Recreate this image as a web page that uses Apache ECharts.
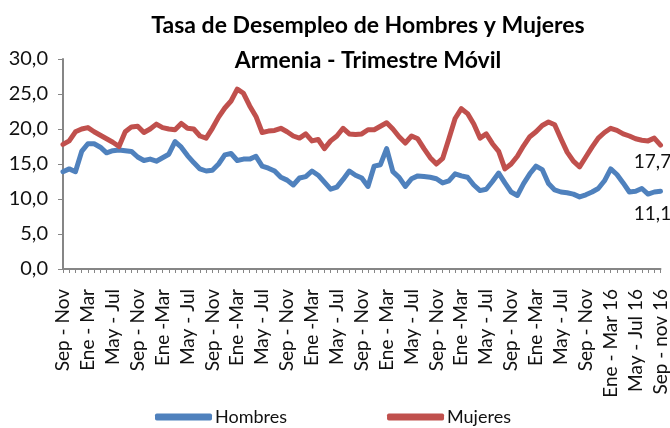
<!DOCTYPE html>
<html>
<head>
<meta charset="utf-8">
<script src="https://cdn.jsdelivr.net/npm/echarts@6/dist/echarts.min.js"></script>
<style>
	html, body { margin: 0; padding: 0; background: #fff; }
	#chart { width: 670px; height: 428px; }
</style>
</head>
<body>
<div id="chart"></div>
<script>
	// etiquetas del eje X (una cada 4 trimestres móviles)
	let tickLabels = [
		'Sep - Nov', 'Ene - Mar', 'May - Jul', 'Sep - Nov', 'Ene -Mar', 'May - Jul',
		'Sep - Nov', 'Ene -Mar', 'May - Jul', 'Sep - Nov', 'Ene -Mar', 'May - Jul',
		'Sep - Nov', 'Ene - Mar', 'May - Jul', 'Sep - Nov', 'Ene -Mar', 'May - Jul',
		'Sep - Nov', 'Ene -Mar', 'May - Jul', 'Sep - Nov', 'Ene - Mar 16', 'May - Jul 16',
		'Sep - nov 16'
	];

	let hombres = [
		13.9, 14.3, 13.9, 16.8, 17.9, 17.9, 17.4, 16.6, 16.9, 17.0,
		16.9, 16.8, 16.0, 15.5, 15.7, 15.4, 15.9, 16.4, 18.2, 17.4,
		16.2, 15.2, 14.3, 14.0, 14.1, 15.0, 16.3, 16.5, 15.5, 15.7,
		15.7, 16.1, 14.7, 14.4, 14.0, 13.1, 12.7, 12.0, 13.0, 13.2,
		14.0, 13.4, 12.4, 11.4, 11.7, 12.8, 14.0, 13.4, 13.0, 11.8,
		14.7, 14.9, 17.2, 13.9, 13.1, 11.8, 12.9, 13.3, 13.2, 13.1,
		12.9, 12.3, 12.6, 13.6, 13.3, 13.1, 12.0, 11.2, 11.4, 12.5,
		13.7, 12.3, 11.0, 10.5, 12.2, 13.6, 14.7, 14.2, 12.2, 11.3,
		11.0, 10.9, 10.7, 10.3, 10.6, 11.0, 11.5, 12.6, 14.3, 13.5,
		12.3, 11.0, 11.1, 11.5, 10.7, 11.0, 11.1
	];

	let mujeres = [
		17.8, 18.3, 19.6, 20.0, 20.2, 19.6, 19.1, 18.6, 18.1, 17.5,
		19.6, 20.3, 20.4, 19.5, 20.0, 20.7, 20.2, 20.0, 19.9, 20.8,
		20.1, 20.0, 19.0, 18.7, 20.1, 21.7, 23.0, 24.0, 25.7, 25.1,
		23.3, 21.8, 19.5, 19.7, 19.8, 20.1, 19.6, 19.0, 18.7, 19.3,
		18.3, 18.5, 17.2, 18.3, 19.0, 20.1, 19.3, 19.2, 19.3, 19.9,
		19.9, 20.4, 20.9, 20.0, 18.9, 18.0, 19.0, 18.6, 17.2, 15.9,
		15.0, 15.8, 18.6, 21.5, 22.9, 22.2, 20.7, 18.7, 19.3, 17.9,
		16.8, 14.3, 15.0, 16.1, 17.6, 18.9, 19.6, 20.5, 21.0, 20.6,
		18.6, 16.7, 15.4, 14.6, 16.0, 17.4, 18.7, 19.5, 20.1, 19.8,
		19.3, 19.0, 18.6, 18.4, 18.3, 18.7, 17.7
	];

	let yTicks = [0, 5, 10, 15, 20, 25, 30];

	let categories = hombres.map(function(v, i){ return 'p' + i; });
	let last = hombres.length - 1;
	let fmt = function(v){ return Number(v).toFixed(1).replace('.', ','); };
	let font = 'Lato, "Open Sans", sans-serif';

	let chart = echarts.init(document.getElementById('chart'));

	let series_template = function(name, data, color, offset){
		return {
			name: name,
			type: 'line',
			data: data,
			symbol: 'circle',
			symbolSize: 0,
			showAllSymbol: true,
			lineStyle: { color: color, width: 5, join: 'round', cap: 'round' },
			itemStyle: { color: color },
			label: {
				show: true,
				position: 'bottom',
				offset: offset,
				fontFamily: font,
				fontSize: 19,
				color: '#111',
				formatter: function(p){ return p.dataIndex === last ? fmt(p.value) : ''; }
			},
			emphasis: { disabled: true },
			animation: false
		};
	};

	let options = {
		title: {
			text: 'Tasa de Desempleo de Hombres y Mujeres\nArmenia - Trimestre Móvil',
			left: 363,
			top: 3,
			textAlign: 'center',
			textStyle: {
				fontFamily: font,
				fontWeight: 'bold',
				fontSize: 23,
				lineHeight: 35,
				color: '#000'
			}
		},
		legend: {
			left: 150,
			top: 403,
			itemWidth: 57,
			itemHeight: 7,
			itemGap: 100,
			icon: 'roundRect',
			textStyle: { fontFamily: font, fontSize: 18, color: '#111', padding: [0, 0, 0, -2] },
			data: ['Hombres', 'Mujeres']
		},
		grid: {
			left: 63,
			right: 7,
			top: 59,
			bottom: 159
		},
		xAxis: {
			type: 'category',
			boundaryGap: false,
			data: categories,
			axisLine: { lineStyle: { color: '#868686', width: 2 } },
			axisTick: { show: true, interval: 0, length: 4, lineStyle: { color: '#868686', width: 1 } },
			axisLabel: {
				interval: 3,
				rotate: 90,
				margin: 20,
				fontFamily: font,
				fontSize: 19,
				color: '#111',
				formatter: function(v, i){ return tickLabels[Math.round(i / 4)]; }
			},
			splitLine: { show: false }
		},
		yAxis: {
			type: 'value',
			min: yTicks[0],
			max: yTicks[yTicks.length - 1],
			interval: 5,
			axisLine: { show: true, lineStyle: { color: '#868686', width: 2 } },
			axisTick: { show: true, length: 5, lineStyle: { color: '#868686', width: 1 } },
			axisLabel: { fontFamily: font, fontSize: 20, color: '#111', margin: 15, formatter: fmt },
			splitLine: { show: false }
		},
		series: [
			series_template('Hombres', hombres, '#4F81BD', [-8, 8]),
			series_template('Mujeres', mujeres, '#C0504D', [-8, 2])
		]
	};

	chart.setOption(options);
</script>
</body>
</html>
